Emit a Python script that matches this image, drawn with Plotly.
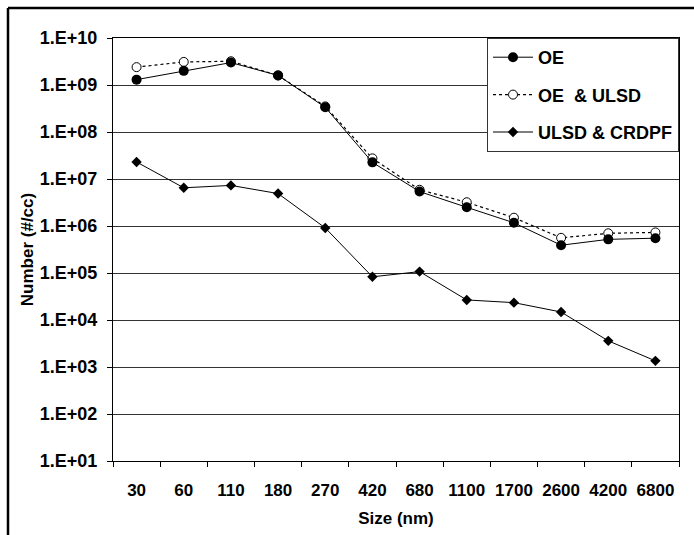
import plotly.graph_objects as go

# Particle size bins (nm)
sizes = ["30", "60", "110", "180", "270", "420", "680", "1100", "1700", "2600", "4200", "6800"]

# Number concentration (#/cc) for each configuration
oe = [1.3e9, 2.0e9, 3.0e9, 1.6e9, 3.35e8, 2.26e7, 5.4e6, 2.5e6, 1.17e6, 3.9e5, 5.2e5, 5.5e5]
oe_ulsd = [2.4e9, 3.1e9, 3.2e9, 1.6e9, 3.5e8, 2.75e7, 5.9e6, 3.2e6, 1.5e6, 5.6e5, 7.0e5, 7.3e5]
ulsd_crdpf = [2.3e7, 6.5e6, 7.3e6, 4.9e6, 9.1e5, 8.3e4, 1.07e5, 2.67e4, 2.34e4, 1.48e4, 3.6e3, 1.35e3]

# Decade ticks for the log axis
decades = list(range(1, 11))
tick_vals = [10 ** d for d in decades]
tick_text = ["1.E+%02d" % d for d in decades]

FONT = "Liberation Sans, Arial, sans-serif"

fig = go.Figure()

fig.add_trace(go.Scatter(
    x=sizes, y=ulsd_crdpf, name="ULSD & CRDPF", mode="lines+markers",
    line=dict(color="black", width=1),
    marker=dict(symbol="diamond", size=8, color="black"),
    legendgroup="c", legendrank=3,
))
fig.add_trace(go.Scatter(
    x=sizes, y=oe_ulsd, name="OE  & ULSD", mode="lines+markers",
    line=dict(color="black", width=1.2, dash="dot"),
    marker=dict(symbol="circle", size=9, color="white", line=dict(color="black", width=1)),
    legendgroup="b", legendrank=2,
))
fig.add_trace(go.Scatter(
    x=sizes, y=oe, name="OE", mode="lines+markers",
    line=dict(color="black", width=1),
    marker=dict(symbol="circle", size=10, color="black"),
    legendgroup="a", legendrank=1,
))

W, H = 694, 535
ml, mr, mt, mb = 113, 15, 38, 74
pw, ph = W - ml - mr, H - mt - mb

def px_x(p):
    return (p - ml) / pw

def px_y(p):
    return (H - mb - p) / ph

fig.update_layout(
    width=W, height=H,
    margin=dict(l=ml, r=mr, t=mt, b=mb, pad=0),
    paper_bgcolor="white", plot_bgcolor="white",
    font=dict(family=FONT, color="black", size=17),
    showlegend=True,
    legend=dict(
        x=px_x(487), y=1, xanchor="left", yanchor="top",
        bgcolor="white", bordercolor="#333", borderwidth=1,
        font=dict(family=FONT, size=18, weight="bold"),
        traceorder="grouped", tracegroupgap=11,
        itemwidth=40,
    ),
    xaxis=dict(
        type="category", range=[-0.5, len(sizes) - 0.5],
        showgrid=False, showline=True, linecolor="black", linewidth=1, mirror=True,
        ticks="outside", ticklen=5, tickcolor="black", tickson="boundaries",
        tickfont=dict(family=FONT, size=17, weight="bold"),
        ticklabelstandoff=14,
        title=dict(text="Size (nm)", font=dict(family=FONT, size=17, weight="bold"), standoff=12),
    ),
    yaxis=dict(
        type="log", range=[1, 10],
        tickvals=tick_vals, ticktext=tick_text,
        showgrid=True, gridcolor="#333", gridwidth=1,
        showline=True, linecolor="black", linewidth=1, mirror=True,
        ticks="outside", ticklen=5, tickcolor="black",
        tickfont=dict(family=FONT, size=18, weight="bold"),
        ticklabelstandoff=6,
        title=dict(text="Number (#/cc)", font=dict(family=FONT, size=17, weight="bold"), standoff=1),
    ),
    shapes=[
        # outer chart frame; only its left and top edges fall inside the page
        dict(type="line", xref="paper", yref="paper",
             x0=px_x(8), y0=px_y(560), x1=px_x(8), y1=px_y(8),
             line=dict(color="black", width=2.5), layer="above"),
        dict(type="line", xref="paper", yref="paper",
             x0=px_x(8), y0=px_y(8), x1=px_x(720), y1=px_y(8),
             line=dict(color="black", width=2.5), layer="above"),
    ],
)

fig.write_html("out.html")
